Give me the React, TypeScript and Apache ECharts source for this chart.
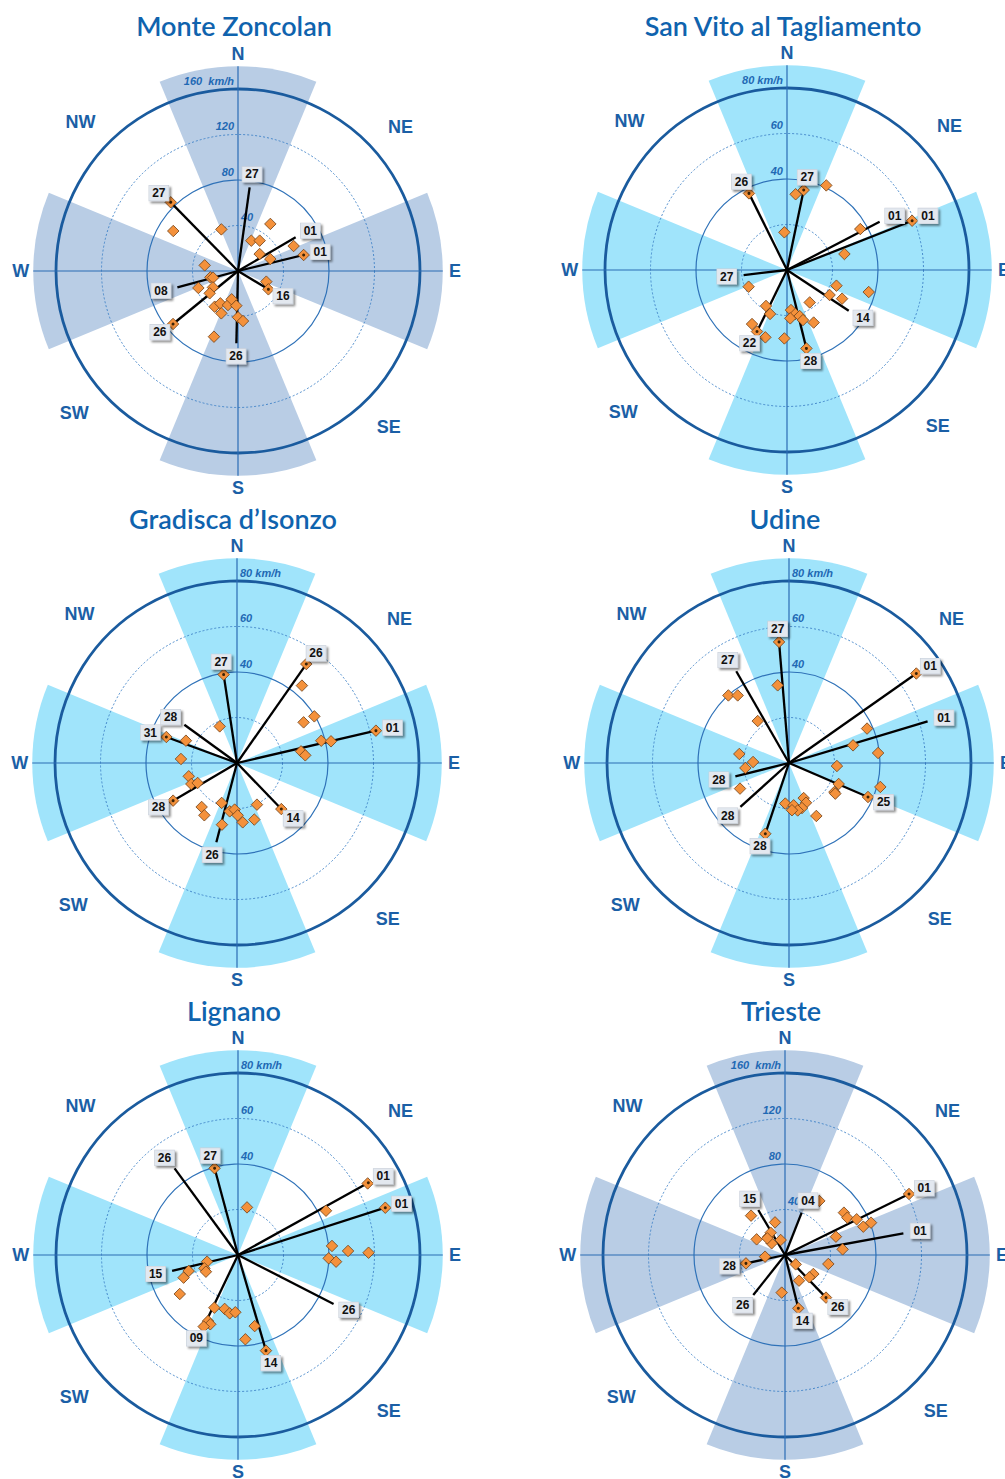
import React, { useEffect, useRef } from 'react';
import * as echarts from 'echarts';

// ---------- data ----------
const stationNames = ['Monte Zoncolan', 'San Vito al Tagliamento', 'Gradisca d’Isonzo', 'Udine', 'Lignano', 'Trieste'];
const fullScales = [160, 80, 80, 80, 80, 160];

const ticks160 = [40, 80, 120, 160];
const tickLabels160 = ['40', '80', '120', '160  km/h'];
const ticks80 = [20, 40, 60, 80];
const tickLabels80 = ['', '40', '60', '80 km/h'];

const compassNames = ['N', 'NE', 'E', 'SE', 'S', 'SW', 'W', 'NW'];
const compassAngles = [0, 48.5, 90, 136, 180, 229, 270, 313.5];
const sectorDirs = [0, 90, 180, 270];

// [speed km/h, direction deg]
const zoncolanPoints = [
  [84.5, 315.6], [66.9, 301.7], [39.4, 338.2], [50.2, 34.5], [29.1, 23.7], [32.8, 35.5], [53.6, 65.8],
  [59.4, 76.3], [24.2, 51.9], [30.3, 69.6], [29.7, 279.6], [24.9, 257.1], [22.7, 255.1], [37.9, 246.8],
  [26.3, 236.8], [31.7, 231.8], [26.6, 110.6], [31.2, 121.1], [73.7, 230.8], [37.5, 213.2], [32.4, 208.6],
  [40, 201.5], [31.2, 196.4], [25.5, 192.6], [30.5, 182.8], [40.7, 180], [44.2, 174.3], [61.5, 200.1],
];
const sanVitoPoints = [
  [37.6, 333.6], [33.5, 6.5], [35.9, 11.8], [41.0, 24.9], [16.6, 356], [36.9, 60.8], [59.1, 68.5],
  [26.2, 74.4], [18.4, 246.5], [22.8, 107.6], [21.7, 120.4], [27.3, 117.5], [37.2, 105.1], [17.4, 145],
  [18.3, 210.3], [20.7, 201.1], [28.3, 212.9], [30.1, 206], [31.1, 197.8], [30.1, 182.2], [17.7, 174.3],
  [19.7, 169.3], [21.3, 176.1], [21.0, 164.6], [23.1, 162.3], [25.9, 153.1], [35.5, 166.1],
];
const gradiscaPoints = [
  [53.1, 35], [44.4, 40], [39.7, 58.9], [34.3, 58.6], [38.3, 75.2], [42.4, 77], [62.7, 76.9], [28.6, 79.7],
  [30.2, 83.6], [39.3, 351.4], [17.8, 334.7], [33.1, 290.2], [24.5, 293.6], [24.7, 274.1], [22, 254.6],
  [22.1, 245.3], [19.4, 243.1], [32.6, 239.5], [24.8, 218.8], [27.1, 212], [18.8, 201], [27.9, 193.7],
  [21.5, 188.6], [20.5, 182.9], [23, 179.3], [26.2, 174.5], [26, 163], [20.3, 154.4], [28.1, 136.1],
];
const udinePoints = [
  [53.4, 355.3], [34.5, 351.7], [39.9, 318.1], [37.3, 322.8], [23, 323.3], [22.2, 280.3], [15.8, 271.6],
  [19.3, 263.5], [24.3, 242.4], [68.4, 54.9], [37.5, 66.2], [29.2, 74.6], [39.4, 83.6], [21.1, 93.6],
  [23.7, 112.9], [23.7, 122.6], [24.4, 123.5], [41.5, 104.7], [37.8, 113.3], [17.9, 185.2], [18.7, 173.7],
  [16.7, 157.3], [19, 156.8], [20.6, 163.9], [21.2, 169.6], [20.8, 176.4], [26.2, 152.7], [32.8, 198.5],
];
const lignanoPoints = [
  [39.5, 344.9], [21.3, 10.7], [65.1, 61.1], [43.3, 63.3], [68, 72.2], [41.5, 84.5], [48.4, 87.9],
  [57.4, 89], [39.9, 92.1], [43.2, 93.9], [13.9, 257.9], [15.9, 248.4], [15.9, 242.5], [22.8, 252],
  [25.9, 247.4], [30.8, 236.2], [25.4, 204.2], [24.4, 193.9], [25.9, 188.1], [25.2, 182.7], [31.9, 204.4],
  [32.8, 201.8], [34.9, 205.6], [32.1, 166.8], [37.2, 175], [43.8, 163.7],
];
const triestePoints = [
  [56.3, 32.4], [63.8, 54.3], [63.9, 59.1], [70.4, 63.5], [73.2, 70.1], [80.8, 69.4], [121.5, 63.8],
  [47.6, 70.2], [50.9, 84.4], [38.9, 101.7], [12.5, 131.2], [30, 123.8], [29, 132.5], [25.7, 151.4],
  [33.2, 185], [48.3, 166], [52, 136.1], [35.1, 257.9], [17.6, 265.2], [28.5, 298.9], [45.7, 319.2],
  [30, 343], [21.8, 317.7], [23.3, 327.3], [15.6, 311.2], [13.7, 343.9], [21.4, 313.3],
];

// gusts: [speed km/h, direction deg, marker at end (1/0)]
const zoncolanGusts = [[74.3, 7.9, 0], [84.5, 315.6, 1], [58.7, 59.7, 0], [59.4, 76.3, 1], [55.2, 254.9, 0], [73.7, 230.8, 1], [63.6, 181.3, 0], [31.2, 121.1, 1]];
const zoncolanDays = ['27', '27', '01', '01', '08', '26', '26', '16'];
const sanVitoGusts = [[37.6, 333.6, 1], [35.9, 11.8, 1], [45.9, 62.5, 0], [59.1, 68.5, 1], [19.2, 263.4, 0], [32.5, 123.4, 0], [30.1, 206, 1], [35.5, 166.1, 1]];
const sanVitoDays = ['26', '27', '01', '01', '27', '14', '22', '28'];
const gradiscaGusts = [[53.1, 35, 1], [62.7, 76.9, 1], [39.3, 351.4, 1], [28.6, 306, 0], [33.1, 290.2, 1], [32.6, 239.5, 1], [36, 194.6, 0], [28.1, 136.1, 1]];
const gradiscaDays = ['26', '01', '27', '28', '31', '28', '26', '14'];
const udineGusts = [[53.4, 355.3, 1], [46.5, 330.1, 0], [68.4, 54.9, 1], [63.6, 73.3, 0], [24.3, 256, 0], [28.8, 227.9, 0], [32.8, 198.5, 1], [37.8, 113.3, 1]];
const udineDays = ['27', '27', '01', '01', '28', '28', '28', '25'];
const lignanoGusts = [[47.2, 323.8, 0], [39.5, 344.9, 1], [65.5, 61, 1], [68, 72.2, 1], [29.8, 256.4, 0], [34.9, 205.6, 1], [43.8, 163.7, 1], [47.2, 117.1, 0]];
const lignanoDays = ['26', '27', '01', '01', '15', '09', '14', '26'];
const triesteGusts = [[46, 329.3, 0], [40, 21.5, 0], [121.5, 63.8, 1], [105.8, 79.6, 0], [35.1, 257.9, 1], [44.9, 218.4, 0], [48.3, 166, 1], [52, 136.1, 1]];
const triesteDays = ['15', '04', '01', '01', '28', '26', '14', '26'];

const allPoints = [zoncolanPoints, sanVitoPoints, gradiscaPoints, udinePoints, lignanoPoints, triestePoints];
const allGusts = [zoncolanGusts, sanVitoGusts, gradiscaGusts, udineGusts, lignanoGusts, triesteGusts];
const allDays = [zoncolanDays, sanVitoDays, gradiscaDays, udineDays, lignanoDays, triesteDays];

// ---------- layout / style ----------
const panelCenters = [[238, 271], [787, 270], [237, 763], [789, 763], [238, 1255], [785, 1255]];
const titleY = [25, 25, 518, 518, 1010, 1010];
const tickSides = [
  ['R', 'L', 'L', 'L'], ['L', 'L', 'L', 'L'], ['R', 'R', 'R', 'R'],
  ['R', 'R', 'R', 'R'], ['R', 'R', 'R', 'R'], ['R', 'L', 'L', 'L'],
];
const STEEL = '#b9cde5';
const CYAN = '#a0e4fb';
const wedgeColors = [STEEL, CYAN, CYAN, CYAN, CYAN, STEEL];
const R_PX = 204.75;
const EXT = 1.125; // wedge radius relative to full scale
const LABEL_EXT = 1.193;
const BLUE = '#1b5fa6';

function unitFrom(api: any, a: number, max: number) {
  const c = api.coord([0, 0]);
  const p = api.coord([max, a]);
  const L = Math.hypot(p[0] - c[0], p[1] - c[1]);
  return [(p[0] - c[0]) / L, (p[1] - c[1]) / L];
}

function buildPanel(i: number) {
  const scale = fullScales[i];
  const max = scale * EXT;
  const ticks = scale === 160 ? ticks160 : ticks80;
  const tickLabels = scale === 160 ? tickLabels160 : tickLabels80;
  const sides = tickSides[i];
  const gusts = allGusts[i];
  const days = allDays[i];
  const common = { coordinateSystem: 'polar', polarIndex: i, silent: true, animation: false };

  const series: any[] = [
    {
      ...common, type: 'custom', z: 1,
      data: sectorDirs.map((a) => [max, a]),
      renderItem: (params: any, api: any) => {
        const c = api.coord([0, 0]);
        const p = api.coord([api.value(0), api.value(1)]);
        const r = Math.hypot(p[0] - c[0], p[1] - c[1]);
        const th = Math.atan2(p[1] - c[1], p[0] - c[0]);
        const half = Math.PI / 8;
        return {
          type: 'sector',
          shape: { cx: c[0], cy: c[1], r0: 0, r, startAngle: th - half, endAngle: th + half, clockwise: true },
          style: { fill: wedgeColors[i] },
        };
      },
    },
    {
      ...common, type: 'custom', z: 2,
      data: ticks.map((v) => [v, 0]),
      renderItem: (params: any, api: any) => {
        const c = api.coord([0, 0]);
        const p = api.coord([api.value(0), 0]);
        const r = Math.hypot(p[0] - c[0], p[1] - c[1]);
        const idx = params.dataIndex;
        const style: any =
          idx === 3
            ? { fill: 'none', stroke: '#1a5b9e', lineWidth: 2.8 }
            : idx === 1
            ? { fill: 'none', stroke: '#2f72b8', lineWidth: 1.2 }
            : { fill: 'none', stroke: '#3c80c6', lineWidth: 0.9, lineDash: [2, 2] };
        return { type: 'circle', shape: { cx: c[0], cy: c[1], r }, style };
      },
    },
    {
      ...common, type: 'custom', z: 2,
      data: [[max, 0], [max, 90]],
      renderItem: (params: any, api: any) => {
        const c = api.coord([0, 0]);
        const p = api.coord([api.value(0), api.value(1)]);
        return {
          type: 'line',
          shape: { x1: p[0], y1: p[1], x2: 2 * c[0] - p[0], y2: 2 * c[1] - p[1] },
          style: { stroke: '#2a6cb4', lineWidth: 1.2 },
        };
      },
    },
    {
      ...common, type: 'custom', z: 3,
      data: ticks.map((v) => [v, 0]),
      renderItem: (params: any, api: any) => {
        const idx = params.dataIndex;
        const p = api.coord([api.value(0), 0]);
        const right = sides[idx] === 'R';
        return {
          type: 'text',
          style: {
            text: tickLabels[idx], x: p[0] + (right ? 3 : -4), y: p[1] - 3,
            align: right ? 'left' : 'right', verticalAlign: 'bottom',
            textAlign: right ? 'left' : 'right', textVerticalAlign: 'bottom',
            font: 'italic bold 11px "Liberation Sans", Arial, sans-serif', fill: '#1f69b4',
          },
        };
      },
    },
    {
      ...common, type: 'custom', z: 3,
      data: compassAngles.map((a) => [scale * LABEL_EXT, a]),
      renderItem: (params: any, api: any) => {
        const p = api.coord([api.value(0), api.value(1)]);
        return {
          type: 'text',
          style: {
            text: compassNames[params.dataIndex], x: p[0], y: p[1],
            align: 'center', verticalAlign: 'middle', textAlign: 'center', textVerticalAlign: 'middle',
            font: 'bold 18px "Liberation Sans", Arial, sans-serif', fill: BLUE,
          },
        };
      },
    },
    {
      ...common, type: 'custom', z: 4,
      data: gusts.map((g) => [g[0], g[1]]),
      renderItem: (params: any, api: any) => {
        const c = api.coord([0, 0]);
        const p = api.coord([api.value(0), api.value(1)]);
        return {
          type: 'line',
          shape: { x1: c[0], y1: c[1], x2: p[0], y2: p[1] },
          style: { stroke: '#000', lineWidth: 2.3 },
        };
      },
    },
    {
      ...common, type: 'scatter', z: 5,
      data: allPoints[i],
      symbol: 'diamond', symbolSize: 11.5,
      itemStyle: { color: '#f4913b', borderColor: '#6e4018', borderWidth: 0.8, opacity: 1 },
    },
    {
      ...common, type: 'custom', z: 6,
      data: gusts.map((g) => [g[0], g[1]]),
      renderItem: (params: any, api: any) => {
        const idx = params.dataIndex;
        const p = api.coord([api.value(0), api.value(1)]);
        const u = unitFrom(api, api.value(1), max);
        const children: any[] = [];
        if (gusts[idx][2]) {
          children.push({ type: 'circle', shape: { cx: p[0], cy: p[1], r: 1.5 }, style: { fill: '#3a2206' } });
        }
        children.push({
          type: 'text',
          style: {
            text: days[idx], x: p[0] + u[0] * 17, y: p[1] + u[1] * 13,
            align: 'center', verticalAlign: 'middle', textAlign: 'center', textVerticalAlign: 'middle',
            font: 'bold 12px "Liberation Sans", Arial, sans-serif', fill: '#111',
            backgroundColor: '#e3e8ef', borderColor: '#c9d0da', borderWidth: 0.6,
            padding: [2, 3, 1, 3],
            shadowColor: 'rgba(0,0,0,0.45)', shadowBlur: 2, shadowOffsetX: 2, shadowOffsetY: 2,
          },
        });
        return { type: 'group', children };
      },
    },
  ];

  return {
    polar: { center: panelCenters[i], radius: R_PX },
    radiusAxis: {
      polarIndex: i, type: 'value', min: 0, max,
      axisLine: { show: false }, axisTick: { show: false }, axisLabel: { show: false }, splitLine: { show: false },
    },
    angleAxis: {
      polarIndex: i, type: 'value', min: 0, max: 360, startAngle: 90, clockwise: true,
      axisLine: { show: false }, axisTick: { show: false }, axisLabel: { show: false }, splitLine: { show: false },
    },
    series,
  };
}

export default function App() {
  const ref = useRef<HTMLDivElement>(null);
  useEffect(() => {
    if (!ref.current) return;
    const chart = echarts.init(ref.current, undefined, { renderer: 'svg' });
    const panels = stationNames.map((_, i) => buildPanel(i));
    const option: any = {
      animation: false,
      backgroundColor: '#ffffff',
      polar: panels.map((p) => p.polar),
      radiusAxis: panels.map((p) => p.radiusAxis),
      angleAxis: panels.map((p) => p.angleAxis),
      series: panels.flatMap((p) => p.series),
      graphic: stationNames.map((name, i) => ({
        type: 'text',
        x: panelCenters[i][0] - 4,
        y: titleY[i],
        z: 10,
        style: {
          text: name, align: 'center', verticalAlign: 'middle', textAlign: 'center', textVerticalAlign: 'middle',
          font: '600 27px Lato, "Open Sans", sans-serif', fill: '#0f63ae',
        },
      })),
    };
    chart.setOption(option);
    return () => chart.dispose();
  }, []);
  return <div ref={ref} style={{ position: 'absolute', left: 0, top: 0, width: 1005, height: 1479 }} />;
}
